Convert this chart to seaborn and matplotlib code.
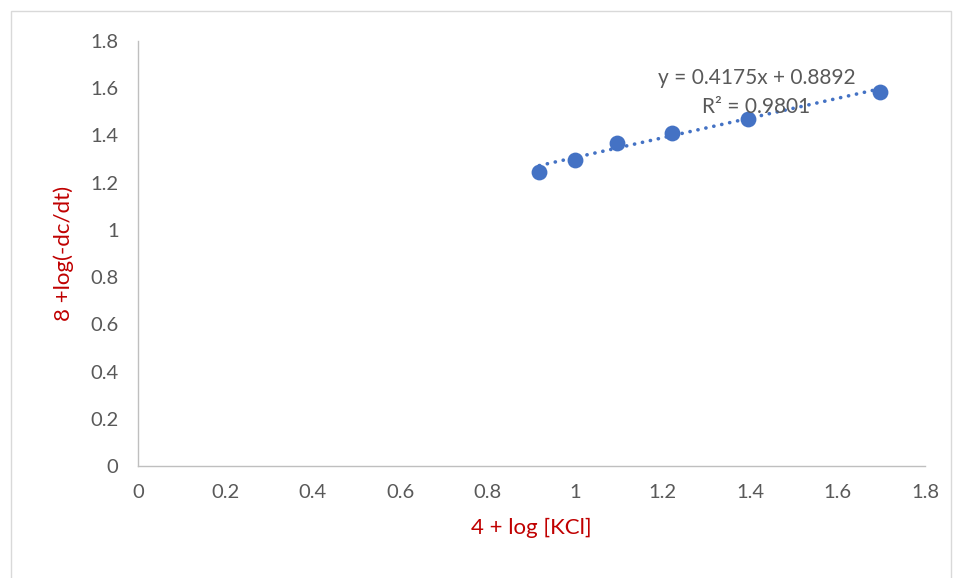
import matplotlib
matplotlib.use("Agg")
import matplotlib.pyplot as plt
import seaborn as sns
import numpy as np
import pandas as pd
from matplotlib.patches import Rectangle

# Data
x_vals = [0.918, 1.000, 1.095, 1.221, 1.395, 1.697]
y_vals = [1.246, 1.296, 1.367, 1.412, 1.471, 1.583]
slope = 0.4175
intercept = 0.8892
eq_text = "y = 0.4175x + 0.8892"
r2_text = "R² = 0.9801"
ticks = [0, 0.2, 0.4, 0.6, 0.8, 1, 1.2, 1.4, 1.6, 1.8]
tick_labels = ["0", "0.2", "0.4", "0.6", "0.8", "1", "1.2", "1.4", "1.6", "1.8"]
x_label = "4 + log [KCl]"
y_label = "8 +log(-dc/dt)"

sns.set_theme(style="white")
plt.rcParams['font.family'] = ['Lato', 'DejaVu Sans']

df = pd.DataFrame({"x": x_vals, "y": y_vals})

fig = plt.figure(figsize=(9.55, 5.78), dpi=100)
ax = fig.add_axes([138/955, (578-466)/578, (925-138)/955, (466-41)/578])

blue = "#4472C4"
gray_text = "#595959"

# trendline
xl = np.array([min(x_vals), max(x_vals)])
ax.plot(xl, slope * xl + intercept, linestyle=(0, (0.05, 2.2)), color=blue,
        linewidth=2.6, dash_capstyle="round", solid_capstyle="round", zorder=2)

sns.scatterplot(data=df, x="x", y="y", ax=ax, s=130, color=blue,
                edgecolor=blue, linewidth=0, zorder=3)

ax.set_xlim(0, 1.8)
ax.set_ylim(0, 1.8)
ax.set_xticks(ticks)
ax.set_xticklabels(tick_labels)
ax.set_yticks(ticks)
ax.set_yticklabels(tick_labels)
ax.tick_params(axis="both", length=0, labelsize=14.5, labelcolor=gray_text)
ax.tick_params(axis="x", pad=13)
ax.tick_params(axis="y", pad=14)

for s in ["top", "right"]:
    ax.spines[s].set_visible(False)
for s in ["left", "bottom"]:
    ax.spines[s].set_color("#BFBFBF")
    ax.spines[s].set_linewidth(1.0)

ax.set_xlabel(x_label, color="#C00000", fontsize=16, labelpad=12)
ax.set_ylabel(y_label, color="#C00000", fontsize=16, labelpad=12)

ax.text(1.415, 1.643, eq_text, fontsize=15, color=gray_text, ha="center", va="center")
ax.text(1.413, 1.520, r2_text, fontsize=15, color=gray_text, ha="center", va="center")

# outer chart border
fig.patches.append(Rectangle((11/955, -0.01), (951-11)/955, (578-11)/578 + 0.01,
                             transform=fig.transFigure, fill=False,
                             edgecolor="#D9D9D9", linewidth=1.0))

fig.savefig("out.png", dpi=100)
